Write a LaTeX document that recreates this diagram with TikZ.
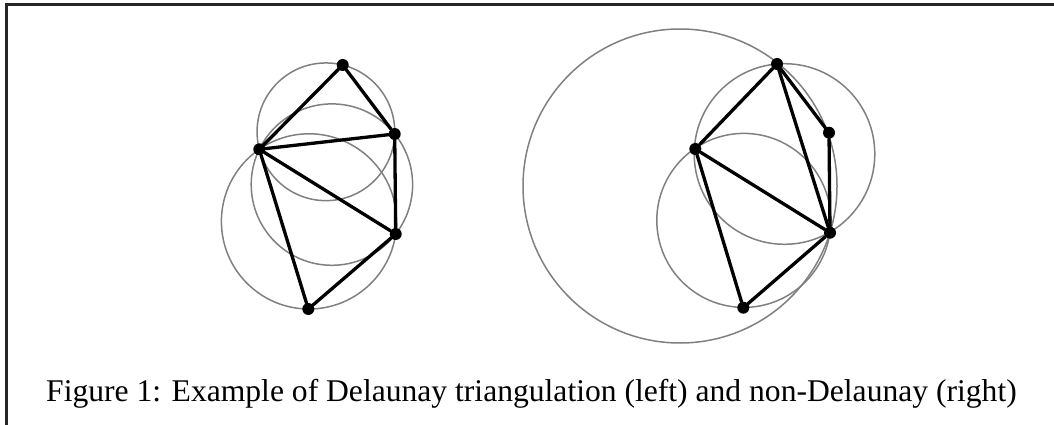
\documentclass[tikz,border=0pt]{standalone}
\usepackage{fontspec}
\setmainfont{Liberation Serif}
\begin{document}
\begin{tikzpicture}[x=1pt,y=-1pt,
  edge/.style={line width=3.3pt, line cap=round, line join=round},
  circ/.style={draw=black!50, line width=1.5pt},
  dot/.style={circle, fill=black, inner sep=0pt, minimum size=12pt},
  frame/.style={line width=3pt, draw=black!85},
  caption/.style={anchor=base west, inner sep=0pt, font=\fontsize{31.6}{38}\selectfont}]
\useasboundingbox (0,0) rectangle (1054,425);
\draw[frame] (6,425) -- (6,5) -- (1054,5);

% left: Delaunay
\draw[circ] (325.9,131.8) circle[radius=68.85pt];
\draw[circ] (331.9,184.6) circle[radius=80.7pt];
\draw[circ] (309.0,221.4) circle[radius=87.6pt];
\node[dot] (A) at (342.7,65) {};
\node[dot] (B) at (394.7,134) {};
\node[dot] (C) at (259.3,149.3) {};
\node[dot] (D) at (395.7,234) {};
\node[dot] (E) at (308.3,309) {};
\draw[edge] (C) -- (A);
\draw[edge] (A) -- (B);
\draw[edge] (C) -- (B);
\draw[edge] (B) -- (D);
\draw[edge] (C) -- (D);
\draw[edge] (C) -- (E);
\draw[edge] (E) -- (D);

% right: non-Delaunay
\draw[circ] (784.5,154) circle[radius=90.3pt];
\draw[circ] (680,186) circle[radius=157pt];
\draw[circ] (743.8,220.4) circle[radius=87pt];
\node[dot] (P) at (777,64) {};
\node[dot] (Q) at (829,132.7) {};
\node[dot] (R) at (695.3,149) {};
\node[dot] (S) at (830,232.7) {};
\node[dot] (T) at (743.3,307.7) {};
\draw[edge] (R) -- (P);
\draw[edge] (P) -- (Q);
\draw[edge] (P) -- (S);
\draw[edge] (Q) -- (S);
\draw[edge] (R) -- (S);
\draw[edge] (R) -- (T);
\draw[edge] (T) -- (S);

\node[caption] (cap) at (46,401) {Figure 1: Example of Delaunay triangulation (left) and non-Delaunay (right)};
\end{tikzpicture}
\end{document}
